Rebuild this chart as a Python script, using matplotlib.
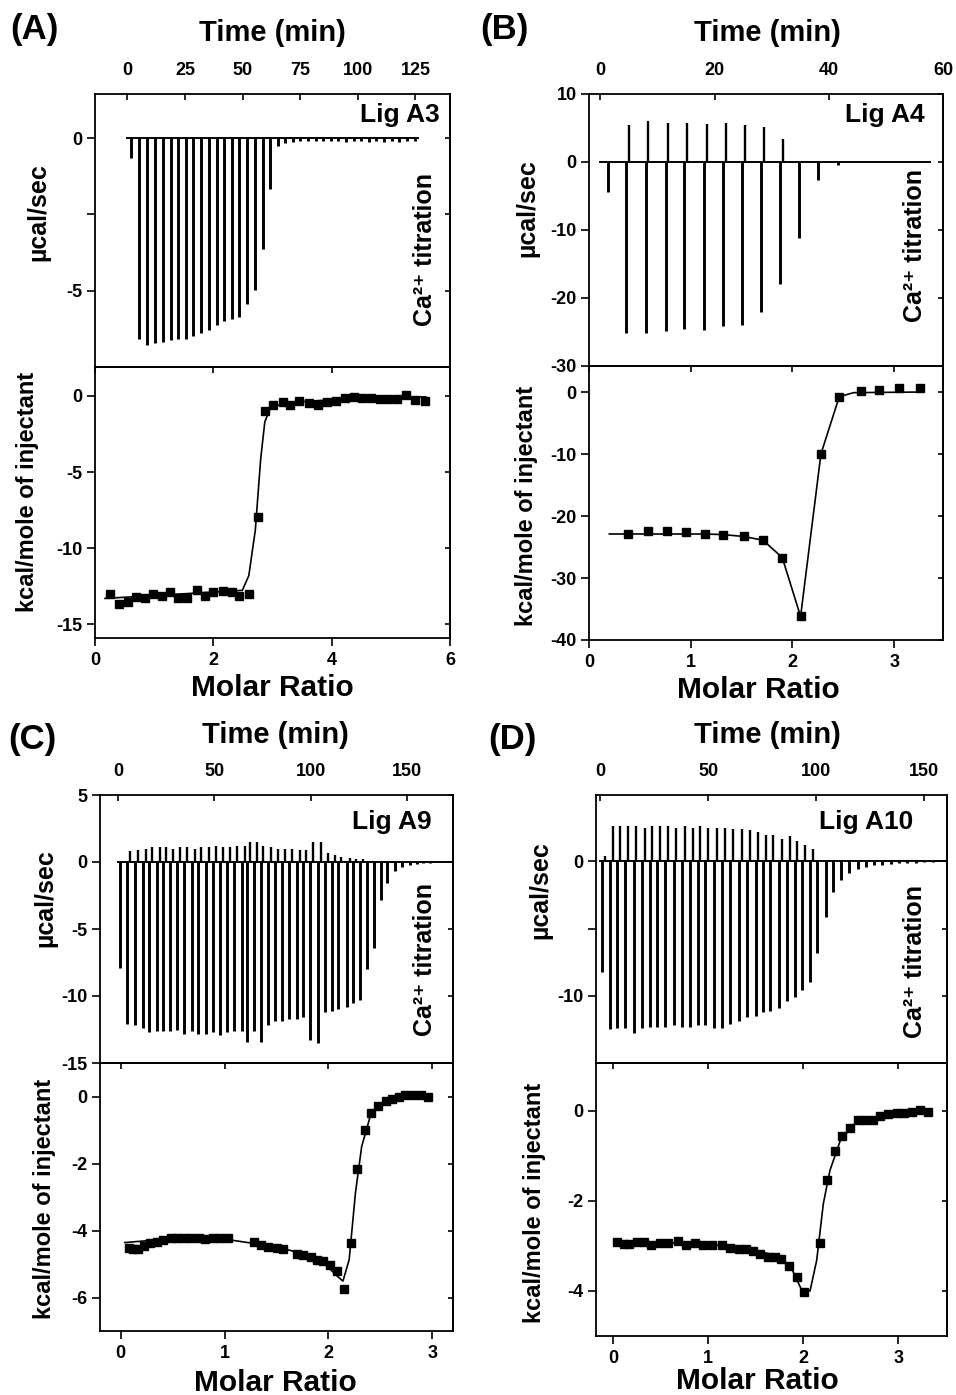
import matplotlib
matplotlib.use('Agg')
import matplotlib.pyplot as plt
import numpy as np

plt.rcParams['font.family'] = ['Liberation Sans', 'DejaVu Sans']
plt.rcParams['font.weight'] = 'bold'
plt.rcParams['axes.linewidth'] = 1.3
plt.rcParams['axes.unicode_minus'] = False

W, H = 956, 1395

# ---------------- data ----------------
# (A) Lig A3 raw thermogram: injection time (min), dip (ucal/sec)
a_t = [1.7, 5.3, 8.5, 12.1, 15.4, 18.9, 22.1, 25.5, 28.7, 32.0, 35.4, 38.8, 42.0, 45.3,
       48.6, 51.8, 55.4, 58.7, 61.9, 65.2, 68.5, 71.8, 75.1, 78.4, 81.7, 85.0, 88.3,
       91.6, 94.9, 98.2, 101.5, 104.8, 108.1, 111.4, 114.7, 118.0, 121.3, 124.6]
a_dip = [-0.66, -6.57, -6.77, -6.71, -6.68, -6.62, -6.59, -6.57, -6.49, -6.40, -6.29,
         -6.13, -5.98, -5.93, -5.85, -5.43, -4.99, -3.62, -1.66, -0.25, -0.15, -0.12,
         -0.10, -0.10, -0.08, -0.10, -0.08, -0.10, -0.12, -0.10, -0.10, -0.12, -0.10,
         -0.12, -0.10, -0.12, -0.10, -0.10]
a_base = [0, 126]
# (A) integrated heats
a_mr = [0.25, 0.41, 0.56, 0.70, 0.84, 0.98, 1.13, 1.27, 1.41, 1.56, 1.72, 1.86, 2.00,
        2.17, 2.31, 2.44, 2.60, 2.76, 2.87, 3.01, 3.17, 3.30, 3.45, 3.62, 3.77, 3.92,
        4.08, 4.22, 4.37, 4.52, 4.67, 4.81, 4.95, 5.10, 5.26, 5.40, 5.57]
a_heat = [-13.04, -13.68, -13.55, -13.19, -13.26, -13.04, -13.13, -12.91, -13.26, -13.26,
          -12.77, -13.13, -12.91, -12.83, -12.91, -13.13, -12.98, -7.98, -1.00, -0.57,
          -0.43, -0.57, -0.36, -0.49, -0.57, -0.43, -0.32, -0.11, -0.06, -0.11, -0.11,
          -0.21, -0.21, -0.21, 0.04, -0.28, -0.32]
a_fit_x = [0.17, 2.49, 2.60, 2.71, 2.80, 2.87, 2.97, 3.28, 4.40, 5.59]
a_fit_y = [-13.3, -12.77, -11.8, -8.8, -4.15, -1.7, -0.74, -0.43, -0.15, -0.06]

# (B) Lig A4 raw thermogram
b_t = [1.3, 4.5, 7.9, 11.4, 14.7, 18.1, 21.5, 24.8, 28.1, 31.4, 34.8, 38.1, 41.6]
b_dip = [-4.4, -25.2, -25.2, -24.9, -24.6, -24.7, -24.1, -23.9, -22.0, -17.9, -11.2, -2.7, -0.5]
b_peak = [0, 5.4, 6.0, 5.7, 5.7, 5.6, 5.7, 5.4, 5.1, 3.4, 0, 0, 0]
b_base = [0, 57.7]
# (B) integrated heats
b_mr = [0.38, 0.58, 0.77, 0.95, 1.14, 1.32, 1.52, 1.71, 1.90, 2.08, 2.28, 2.46, 2.67,
        2.85, 3.05, 3.25]
b_heat = [-22.9, -22.4, -22.4, -22.6, -22.9, -23.0, -23.3, -23.9, -26.7, -36.2, -10.0,
          -0.76, 0.22, 0.33, 0.60, 0.60]
b_fit_x = [0.20, 0.38, 1.14, 1.32, 1.52, 1.71, 1.90, 2.08, 2.28, 2.46, 2.60, 3.25]
b_fit_y = [-22.9, -22.9, -22.9, -23.0, -23.3, -23.9, -26.7, -36.2, -10.0, -0.76, -0.1, 0.0]

# (C) Lig A9 raw thermogram
c_t = [0.9, 4.7, 8.7, 12.7, 16.1, 20.0, 23.4, 26.9, 30.7, 34.2, 38.2, 41.6, 45.6, 49.1,
       52.9, 56.4, 60.2, 64.2, 67.1, 70.7, 74.0, 78.0, 81.5, 85.0, 88.9, 92.8, 96.2,
       99.7, 104.0, 107.5, 111.0, 114.4, 118.8, 122.2, 125.7, 129.2, 133.0, 136.4,
       139.9, 143.9, 147.4, 151.7, 155.2, 158.6, 162.1]
c_dip = [-7.9, -12.1, -12.2, -12.4, -12.7, -12.6, -12.6, -12.6, -12.5, -12.8, -12.6,
         -12.8, -12.8, -12.7, -12.9, -12.7, -12.6, -12.6, -13.4, -12.6, -13.4, -12.2,
         -11.9, -11.9, -11.7, -11.7, -11.6, -13.3, -13.5, -11.2, -11.1, -11.0, -10.8,
         -10.5, -10.3, -8.0, -6.4, -2.8, -1.6, -0.7, -0.4, -0.25, -0.12, -0.07, -0.05]
c_peak = [0, 0.8, 0.9, 1.0, 1.1, 1.1, 1.1, 1.0, 1.1, 1.1, 1.0, 1.1, 1.1, 1.2, 1.1, 1.1,
          1.2, 1.2, 1.5, 1.5, 1.2, 1.1, 1.0, 1.0, 1.0, 0.9, 0.9, 1.5, 1.5, 0.7, 0.5, 0.4,
          0.3, 0.2, 0.2, 0, 0, 0, 0, 0, 0, 0, 0, 0, 0]
c_base = [0, 174]
# (C) integrated heats
c_mr = [0.08, 0.12, 0.17, 0.22, 0.28, 0.35, 0.41, 0.48, 0.54, 0.61, 0.68, 0.75, 0.81,
        0.89, 0.96, 1.03, 1.28, 1.35, 1.42, 1.50, 1.56, 1.70, 1.76, 1.83, 1.89, 1.95,
        2.02, 2.08, 2.15, 2.22, 2.28, 2.35, 2.41, 2.48, 2.55, 2.61, 2.68, 2.74, 2.81,
        2.89, 2.96]
c_heat = [-4.52, -4.55, -4.55, -4.46, -4.38, -4.33, -4.28, -4.23, -4.23, -4.23, -4.23,
          -4.23, -4.26, -4.23, -4.23, -4.23, -4.33, -4.43, -4.48, -4.52, -4.55, -4.69,
          -4.72, -4.79, -4.87, -4.92, -5.02, -5.22, -5.74, -4.36, -2.15, -0.99, -0.50,
          -0.27, -0.14, -0.07, -0.02, 0.03, 0.03, 0.03, 0.0]
c_fit_x = [0.04, 0.35, 0.67, 1.05, 1.31, 1.63, 1.95, 2.08, 2.14, 2.20, 2.26, 2.32, 2.41,
           2.50, 2.76, 2.97]
c_fit_y = [-4.36, -4.28, -4.24, -4.28, -4.40, -4.59, -4.95, -5.35, -5.51, -4.87, -2.89,
           -1.50, -0.51, -0.22, -0.02, 0.03]

# (D) Lig A10 raw thermogram
d_t = [0.8, 4.6, 8.0, 11.6, 15.5, 19.3, 22.9, 26.3, 30.1, 34.0, 37.9, 41.7, 45.1, 48.7,
       52.6, 56.4, 60.3, 64.2, 68.0, 71.9, 75.4, 78.8, 82.7, 86.6, 90.0, 93.5, 97.1,
       100.5, 104.4, 107.9, 111.6, 115.2, 119.1, 122.9, 126.8, 130.6, 134.5, 138.4,
       142.2, 146.1, 150.0, 153.8]
d_dip = [-8.2, -12.5, -12.4, -12.4, -12.8, -12.4, -12.3, -12.3, -12.3, -12.2, -12.3,
         -12.3, -12.2, -12.2, -12.4, -12.4, -12.1, -11.9, -11.6, -11.5, -11.2, -11.1,
         -10.9, -10.4, -10.1, -9.6, -9.0, -6.8, -4.1, -2.3, -1.4, -0.9, -0.6, -0.4, -0.3,
         -0.25, -0.2, -0.15, -0.12, -0.1, -0.08, -0.06]
d_peak = [0.4, 2.6, 2.6, 2.6, 2.6, 2.5, 2.6, 2.6, 2.6, 2.5, 2.6, 2.5, 2.6, 2.5, 2.5, 2.5,
          2.4, 2.4, 2.3, 2.2, 2.0, 2.0, 1.7, 1.9, 1.5, 1.2, 0.9, 0.1, 0, 0, 0, 0, 0, 0, 0,
          0, 0, 0, 0, 0, 0, 0]
d_base = [0, 160.5]
# (D) integrated heats
d_mr = [0.04, 0.11, 0.17, 0.25, 0.32, 0.40, 0.49, 0.58, 0.68, 0.77, 0.86, 0.95, 1.04,
        1.14, 1.23, 1.32, 1.40, 1.47, 1.54, 1.63, 1.70, 1.77, 1.85, 1.93, 2.01, 2.17,
        2.25, 2.33, 2.41, 2.49, 2.57, 2.65, 2.73, 2.81, 2.89, 2.98, 3.06, 3.14, 3.23,
        3.31]
d_heat = [-2.91, -2.96, -2.95, -2.91, -2.91, -2.97, -2.93, -2.93, -2.90, -2.97, -2.93,
          -2.99, -2.99, -2.99, -3.04, -3.06, -3.06, -3.11, -3.17, -3.24, -3.24, -3.28,
          -3.45, -3.70, -4.02, -2.93, -1.54, -0.89, -0.56, -0.39, -0.21, -0.21, -0.21,
          -0.12, -0.07, -0.06, -0.04, -0.02, 0.01, -0.02]
d_fit_x = [0.02, 0.46, 0.98, 1.33, 1.68, 1.86, 1.98, 2.07, 2.14, 2.21, 2.28, 2.39, 2.56,
           2.91, 3.32]
d_fit_y = [-2.93, -2.93, -2.96, -3.04, -3.19, -3.43, -3.97, -4.00, -3.32, -2.06, -1.32,
           -0.65, -0.24, -0.10, -0.02]


fig = plt.figure(figsize=(W / 100, H / 100), dpi=100)


def box(x0, y0, x1, y1):
    return [x0 / W, 1 - y1 / H, (x1 - x0) / W, (y1 - y0) / H]


def ftext(x, y, s, **kw):
    fig.text(x / W, 1 - y / H, s, **kw)


def style_left(ax, yticks, ylabels):
    ax.set_yticks(yticks)
    ax.set_yticklabels(ylabels)
    ax.tick_params(axis='y', direction='out', length=6, width=1.2, pad=3, labelsize=13)
    right = ax.secondary_yaxis('right')
    right.set_yticks(yticks)
    right.tick_params(direction='in', length=3.5, width=1.2, labelright=False)


def raw_panel(px, t, dip, peak, base, xlim, ylim, tticks, yticks, ylabels):
    ax = fig.add_axes(box(*px))
    dt = (xlim[1] - xlim[0]) * 0.008
    ax.vlines(t, 0, dip, color='k', lw=2.1)
    if peak is not None:
        ax.vlines(np.array(t) + dt, 0, peak, color='k', lw=1.7)
    ax.plot(base, [0, 0], color='k', lw=1.4)
    ax.set_xlim(xlim)
    ax.set_ylim(ylim)
    ax.set_xticks(tticks)
    ax.xaxis.tick_top()
    ax.tick_params(axis='x', direction='in', length=4.5, width=1.2, pad=11, labelsize=13)
    style_left(ax, yticks, ylabels)
    return ax


def heat_panel(px, mr, heat, fx, fy, xlim, ylim, xticks, yticks):
    ax = fig.add_axes(box(*px))
    ax.plot(fx, fy, color='k', lw=1.2)
    ax.plot(mr, heat, 's', color='k', ms=5.5)
    ax.set_xlim(xlim)
    ax.set_ylim(ylim)
    ax.set_xticks(xticks)
    ax.tick_params(axis='x', direction='out', length=6, width=1.2, pad=4, labelsize=13)
    top = ax.secondary_xaxis('top')
    top.set_xticks(xticks)
    top.tick_params(direction='in', length=4, width=1.2, labeltop=False)
    style_left(ax, yticks, [str(v) for v in yticks])
    return ax


#Panel A
raw_panel((95, 94, 450, 367), a_t, a_dip, None, a_base, (-14, 140), (-7.5, 1.45),
          [0, 25, 50, 75, 100, 125], [-5, -2.5, 0], ['-5', '', '0'])
heat_panel((95, 367, 450, 638), a_mr, a_heat, a_fit_x, a_fit_y, (0, 6), (-15.9, 1.9),
           [0, 2, 4, 6], [-15, -10, -5, 0])

#Panel B
raw_panel((589, 94, 943, 366), b_t, b_dip, b_peak, b_base, (-2, 60), (-30, 10),
          [0, 20, 40, 60], [-30, -20, -10, 0, 10], ['-30', '-20', '-10', '0', '10'])
heat_panel((589, 366, 943, 640), b_mr, b_heat, b_fit_x, b_fit_y, (0, 3.48), (-40, 4.2),
           [0, 1, 2, 3], [-40, -30, -20, -10, 0])

#Panel C
raw_panel((100, 795, 453, 1063), c_t, c_dip, c_peak, c_base, (-9.5, 174), (-15, 5),
          [0, 50, 100, 150], [-15, -10, -5, 0, 5], ['-15', '-10', '-5', '0', '5'])
heat_panel((100, 1063, 453, 1331), c_mr, c_heat, c_fit_x, c_fit_y, (-0.2, 3.2), (-7, 1),
           [0, 1, 2, 3], [-6, -4, -2, 0])

#Panel D
raw_panel((596, 795, 947, 1063), d_t, d_dip, d_peak, d_base, (-1.9, 160.5), (-15, 4.94),
          [0, 50, 100, 150], [-10, -5, 0], ['-10', '', '0'])
heat_panel((596, 1063, 947, 1336), d_mr, d_heat, d_fit_x, d_fit_y, (-0.18, 3.51), (-5.0, 1.06),
           [0, 1, 2, 3], [-4, -2, 0])


# labels
for x, y, s in [(10, 30, '(A)'), (480, 30, '(B)'), (8, 740, '(C)'), (488, 740, '(D)')]:
    ftext(x, y, s, fontsize=25, ha='left', va='center')

for x, y in [(272, 33), (767, 33), (275, 735), (767, 735)]:
    ftext(x, y, 'Time (min)', fontsize=21, ha='center', va='center')

for x, y in [(272, 688), (758, 690), (275, 1383), (757, 1381)]:
    ftext(x, y, 'Molar Ratio', fontsize=21.5, ha='center', va='center')

for x, y in [(38, 212), (527, 208), (45, 898), (540, 890)]:
    ftext(x, y, 'µcal/sec', fontsize=18, rotation=90, ha='center', va='center')

for x, y in [(28, 492), (527, 506), (45, 1199), (535, 1203)]:
    ftext(x, y, 'kcal/mole of injectant', fontsize=17, rotation=90, ha='center', va='center')

for x, y in [(425, 250), (915, 246), (425, 960), (915, 962)]:
    ftext(x, y, 'Ca²⁺ titration', fontsize=18, rotation=90, ha='center', va='center')

for x, y, s in [(440, 115, 'Lig A3'), (925, 115, 'Lig A4'), (432, 822, 'Lig A9'),
                (913, 822, 'Lig A10')]:
    ftext(x, y, s, fontsize=19, ha='right', va='center')

fig.savefig('out.png', dpi=100)
